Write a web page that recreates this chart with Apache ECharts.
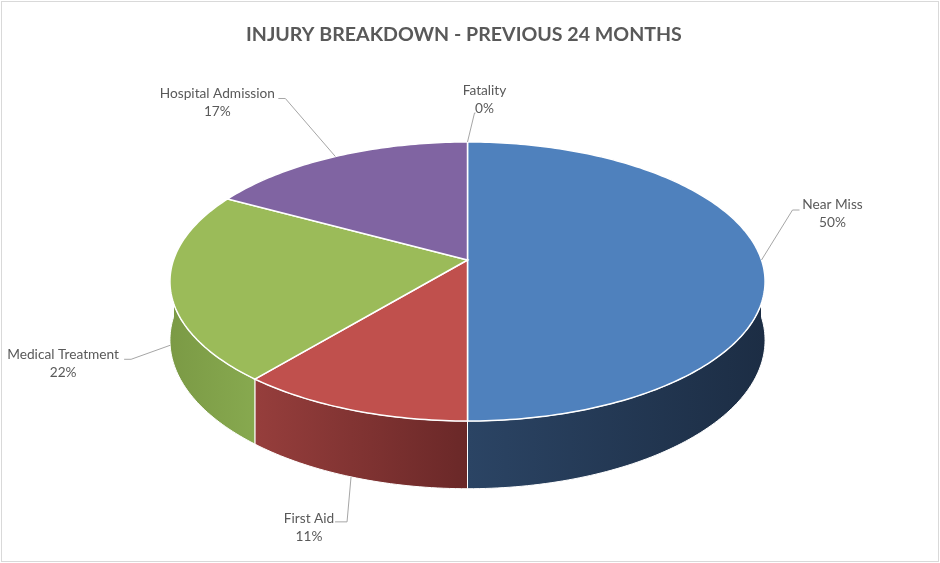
<!DOCTYPE html>
<html>
<head>
<meta charset="utf-8">
<title>Injury Breakdown</title>
<style>
  html, body { margin: 0; padding: 0; background: #fff; }
  #chart { position: absolute; left: 0; top: 0; width: 940px; height: 563px; }
  #frame { position: absolute; left: 1px; top: 1px; width: 936px; height: 559px;
           border: 1px solid #d9d9d9; pointer-events: none; }
</style>
<script src="https://cdn.jsdelivr.net/npm/echarts@6/dist/echarts.min.js"></script>
</head>
<body>
<div id="chart"></div>
<div id="frame"></div>
<script>
// data
var categories = ['Near Miss', 'First Aid', 'Medical Treatment', 'Hospital Admission', 'Fatality'];
var values = [50, 11, 22, 17, 0];

// colours of the top face and of the side wall (left -> right shade)
var topColors = ['#4f81bd', '#c0504d', '#9bbb59', '#8064a2', '#4bacc6'];
var wallColors = [
  ['#2b4464', '#1c2d44'],
  ['#963e3c', '#6a2828'],
  ['#7b9a45', '#87a94f'],
  ['#5e4a78', '#4a3a5e'],
  ['#3a8599', '#2b6575']
];

// leader line: elbow offset from the anchor (dx, dy), short horizontal (hx),
// text block centre offset from the elbow (tx, ty)
var labelLayout = [
  { dx: 31, dy: -50, hx: 7, tx: 40, ty: 4 },
  { dx: -4, dy: 45, hx: -12, tx: -38, ty: 6 },
  { dx: -39, dy: 14, hx: -7, tx: -68, ty: 4 },
  { dx: -50, dy: -58, hx: -7, tx: -68, ty: 4 },
  { dx: 7, dy: -29, hx: 1, tx: 10, ty: -13.5 }
];

(function() {
  var total = values.reduce(function(s, v) { return s + v; }, 0);
  var startAngles = [];
  var acc = 0;
  values.forEach(function(v) { startAngles.push(acc / total * 360); acc += v; });

  var myChart = echarts.init(document.getElementById('chart'));

  // tilted disc with a little perspective: angle in degrees, clockwise from 12 o'clock
  function geom(api) {
    var W = api.getWidth(), H = api.getHeight();
    return {
      cx: W * 467.5 / 940, cy: H * 260 / 563,
      rx: W * 294 / 940, ry: H * 136.2 / 563,
      k: 0.154, h: H * 57.3 / 563
    };
  }
  function proj(g, a, drop) {
    var r = a * Math.PI / 180;
    var u = Math.sin(r), v = -Math.cos(r);
    var p = 1 / (1 - g.k * v);
    return [g.cx + g.rx * u * p, g.cy + (g.ry * v + drop) * p];
  }
  function arc(g, a0, a1, drop) {
    var pts = [];
    var n = Math.max(2, Math.ceil(Math.abs(a1 - a0)));
    for (var i = 0; i <= n; i++) {
      pts.push(proj(g, a0 + (a1 - a0) * i / n, drop));
    }
    return pts;
  }

  function renderItem(params, api) {
    var i = params.dataIndex;
    var g = geom(api);
    var start = api.value(1);
    var end = start + api.value(0) / total * 360;
    var children = [];

    if (end > start) {
      // top face
      children.push({
        type: 'polygon',
        z2: 2,
        shape: { points: [[g.cx, g.cy]].concat(arc(g, start, end, 0)) },
        style: { fill: topColors[i], stroke: '#fff', lineWidth: 1.5 }
      });
      // front side wall
      var ws = Math.max(start, 90), we = Math.min(end, 270);
      if (we > ws) {
        var topArc = arc(g, ws, we, 0);
        var botArc = arc(g, we, ws, g.h);
        var pts = topArc.concat(botArc);
        var xs = pts.map(function(p) { return p[0]; });
        var x0 = Math.min.apply(null, xs), x1 = Math.max.apply(null, xs);
        children.push({
          type: 'polygon',
          z2: 1,
          shape: { points: pts },
          style: {
            fill: {
              type: 'linear', global: true,
              x: x0, y: 0, x2: x1, y2: 0,
              colorStops: [
                { offset: 0, color: wallColors[i][0] },
                { offset: 1, color: wallColors[i][1] }
              ]
            },
            stroke: '#fff', lineWidth: 1
          }
        });
      }
    }

    // label with leader line
    var mid = (start + end) / 2;
    var v = -Math.cos(mid * Math.PI / 180);
    var anchor = proj(g, mid, v > 0.1 ? g.h : 0);
    var lay = labelLayout[i];
    var elbow = [anchor[0] + lay.dx, anchor[1] + lay.dy];
    children.push({
      type: 'polyline',
      z2: 10,
      shape: { points: [anchor, elbow, [elbow[0] + lay.hx, elbow[1]]] },
      style: { stroke: '#a6a6a6', lineWidth: 1, fill: null }
    });
    var pct = Math.round(api.value(0) / total * 100) + '%';
    children.push({
      type: 'text',
      z2: 10,
      x: elbow[0] + lay.tx,
      y: elbow[1] + lay.ty,
      style: {
        text: categories[i] + '\n' + pct,
        fill: '#595959',
        font: '13.7px Lato, "Open Sans", sans-serif',
        lineHeight: 18,
        align: 'center', verticalAlign: 'middle',
        textAlign: 'center', textVerticalAlign: 'middle'
      }
    });

    return { type: 'group', children: children };
  }

  var option = {
    animation: false,
    backgroundColor: '#fff',
    title: {
      text: 'INJURY BREAKDOWN - PREVIOUS 24 MONTHS',
      left: 241,
      top: 20,
      textStyle: {
        color: '#595959',
        fontSize: 19.6,
        fontWeight: 'bold',
        fontFamily: 'Lato, "Open Sans", sans-serif'
      }
    },
    series: [
      {
        type: 'custom',
        coordinateSystem: 'none',
        renderItem: renderItem,
        data: values.map(function(v, i) {
          return { name: categories[i], value: [v, startAngles[i]] };
        })
      }
    ]
  };

  myChart.setOption(option);
  window.addEventListener('resize', function() {
    myChart.resize();
  });
})();
</script>
</body>
</html>
